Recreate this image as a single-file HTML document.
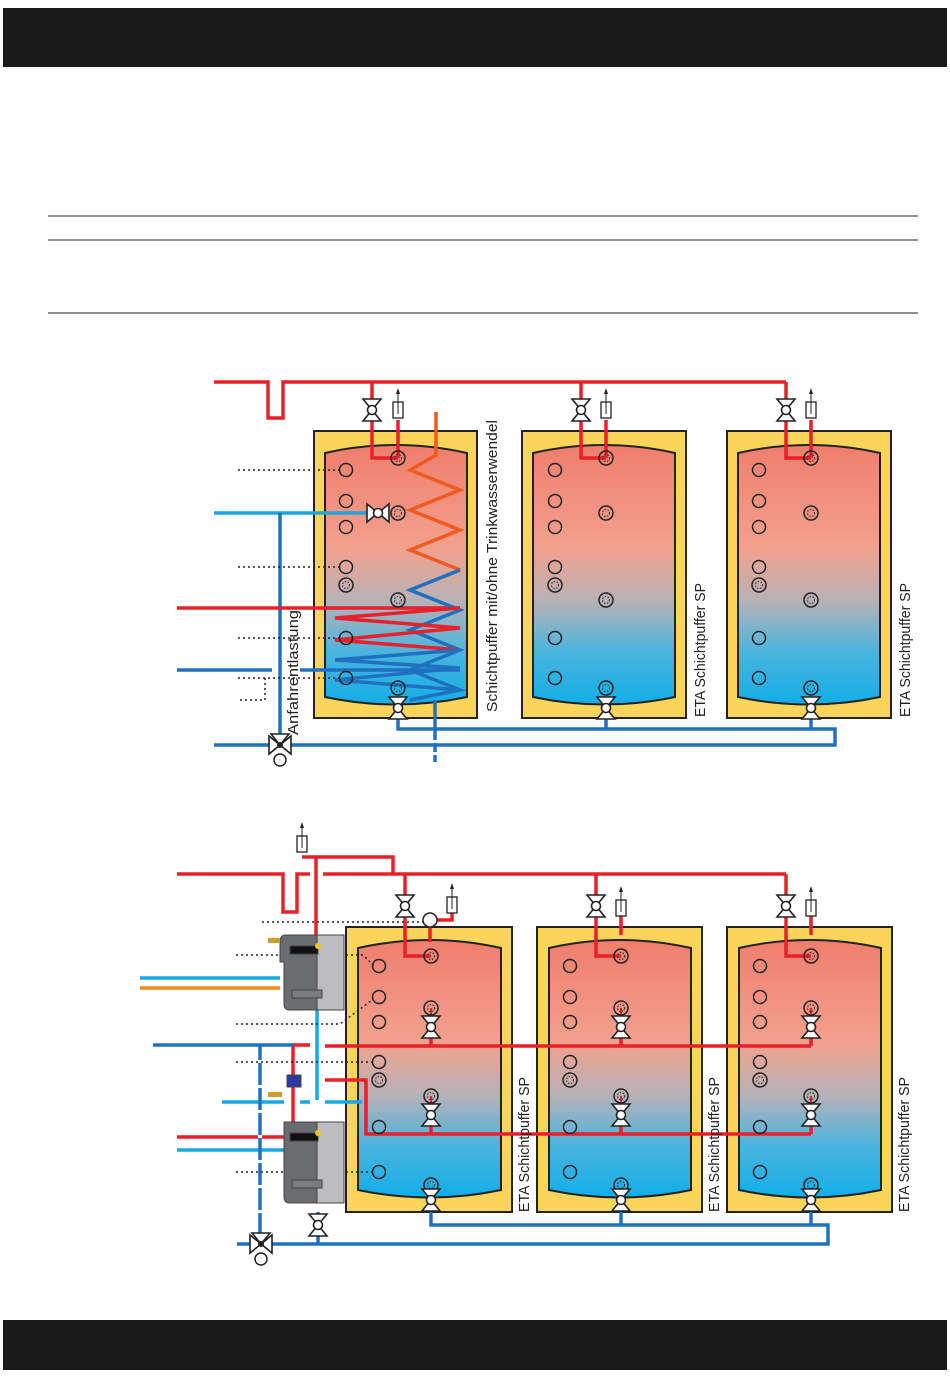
<!DOCTYPE html>
<html><head><meta charset="utf-8"><style>
html,body{margin:0;padding:0;background:#fff;width:950px;height:1378px;overflow:hidden}
svg{display:block}
text{font-family:"Liberation Sans",sans-serif;font-size:15px;fill:#222}
</style></head><body>
<svg width="950" height="1378" viewBox="0 0 950 1378" xmlns="http://www.w3.org/2000/svg">
<defs>
<linearGradient id="g" x1="0" y1="0" x2="0" y2="1">
<stop offset="0" stop-color="#f07e6c"/><stop offset="0.4" stop-color="#f2a18e"/>
<stop offset="0.6" stop-color="#b7b2b6"/><stop offset="0.8" stop-color="#4ab4de"/><stop offset="1" stop-color="#12aee8"/></linearGradient>
<g id="v"><path d="M-9,-11 L9,-11 L0,0 Z M-9,11 L9,11 L0,0Z" fill="#fff" stroke="#222" stroke-width="1.6"/><circle r="4.5" fill="#fff" stroke="#222" stroke-width="1.6"/></g>
<g id="vh"><path d="M-11,-9 L-11,9 L0,0 Z M11,-9 L11,9 L0,0Z" fill="#fff" stroke="#222" stroke-width="1.6"/><circle r="4.5" fill="#fff" stroke="#222" stroke-width="1.6"/></g>
<g id="vent"><rect x="-5" y="-8" width="10" height="16" fill="#fff" stroke="#222" stroke-width="1.3"/><line x1="0" y1="4" x2="0" y2="-20" stroke="#222"/><path d="M-2,-16 L0,-22 L2,-16Z" fill="#222"/></g>
<g id="p"><circle r="6.5" fill="none" stroke="#222" stroke-width="1.5"/></g>
<g id="pd"><circle r="7" fill="none" stroke="#222" stroke-width="1.5"/><circle r="3.5" fill="none" stroke="#222" stroke-dasharray="1.5 1.5"/></g>
<g id="mix"><path d="M-11,-9 L-11,9 L0,0 Z M11,-9 L11,9 L0,0Z M-9,-11 L9,-11 L0,0Z" fill="#fff" stroke="#222" stroke-width="1.6"/><circle cy="15" r="6" fill="#fff" stroke="#222" stroke-width="1.5"/><circle r="3" fill="#222"/></g>
</defs>
<rect x="3" y="8" width="944" height="59" fill="#1a1a1a"/>
<rect x="3" y="1320" width="944" height="50" fill="#1a1a1a"/>
<g stroke="#222" stroke-width="1"><line x1="48" y1="216" x2="918" y2="216"/><line x1="48" y1="240" x2="918" y2="240"/><line x1="48" y1="313" x2="918" y2="313"/></g>

<!-- TOP DIAGRAM tanks -->
<g stroke="#222" stroke-width="2">
<rect x="314" y="431" width="163" height="287" fill="#fbd55a"/>
<rect x="522" y="431" width="164" height="287" fill="#fbd55a"/>
<rect x="727" y="431" width="164" height="287" fill="#fbd55a"/>
<path d="M325,453 Q396,437 467,453 L467,697 Q396,712 325,697Z" fill="url(#g)"/>
<path d="M533,453 Q604,437 675,453 L675,697 Q604,712 533,697Z" fill="url(#g)"/>
<path d="M738,453 Q809,437 880,453 L880,697 Q809,712 738,697Z" fill="url(#g)"/>
</g>
<g fill="none" stroke-width="3.5">
<path d="M214,382 H268 V418 H283 V382 H786" stroke="#e8202a"/>
<path d="M372,382 V458 H398 M398,458 V420 M581,382 V458 H606 M606,458 V420 M786,382 V458 H811 M811,458 V420" stroke="#e8202a"/>
<path d="M214,513 H372" stroke="#1ca6e0"/>
<path d="M280,513 V745 M214,745 H835 V729 H398 V705 M606,729 V705 M811,729 V705" stroke="#2070c0"/>
<path d="M177,608 H460" stroke="#e8202a"/>
<path d="M177,670 H272 M300,670 H460" stroke="#2070c0"/>
<path d="M436,412 V455 L410,470 L460,490 L410,510 L460,530 L410,550 L460,570" stroke="#f05a1e"/>
<path d="M460,570 L410,590 L460,610 L410,630 L460,650 L410,670 L460,690 L410,700 M435,700 V762" stroke="#2070c0"/>
<path d="M460,608 L335,618 L460,628 L335,640 L460,650" stroke="#e8202a"/>
<path d="M460,650 L335,660 L460,668 L335,680 L460,690" stroke="#2070c0"/>
</g>
<line x1="435" y1="740" x2="435" y2="762" stroke="#fff" stroke-width="4" stroke-dasharray="3 9"/>
<g stroke="#222" stroke-width="1.5" stroke-dasharray="2 3" fill="none">
<path d="M238,470 H340 M238,567 H340 M238,638 H340 M238,678 H340 M265,678 V700 H238"/>
</g>
<g>
<use href="#p" x="346" y="470"/><use href="#p" x="346" y="501"/><use href="#p" x="346" y="527"/><use href="#p" x="346" y="567"/><use href="#pd" x="346" y="585"/><use href="#p" x="346" y="638"/><use href="#p" x="346" y="678"/>
<use href="#pd" x="398" y="458"/><use href="#pd" x="398" y="513"/><use href="#pd" x="398" y="600"/><use href="#pd" x="398" y="688"/>
<use href="#p" x="555" y="470"/><use href="#p" x="555" y="501"/><use href="#p" x="555" y="527"/><use href="#p" x="555" y="567"/><use href="#pd" x="555" y="585"/><use href="#p" x="555" y="638"/><use href="#p" x="555" y="678"/>
<use href="#pd" x="606" y="458"/><use href="#pd" x="606" y="513"/><use href="#pd" x="606" y="600"/><use href="#pd" x="606" y="688"/>
<use href="#p" x="759" y="470"/><use href="#p" x="759" y="501"/><use href="#p" x="759" y="527"/><use href="#p" x="759" y="567"/><use href="#pd" x="759" y="585"/><use href="#p" x="759" y="638"/><use href="#p" x="759" y="678"/>
<use href="#pd" x="811" y="458"/><use href="#pd" x="811" y="513"/><use href="#pd" x="811" y="600"/><use href="#pd" x="811" y="688"/>
<use href="#v" x="372" y="410"/><use href="#vent" x="398" y="410"/>
<use href="#v" x="581" y="410"/><use href="#vent" x="606" y="410"/>
<use href="#v" x="786" y="410"/><use href="#vent" x="811" y="410"/>
<use href="#vh" x="378" y="513"/>
<use href="#v" x="398" y="708"/><use href="#v" x="606" y="708"/><use href="#v" x="811" y="708"/>
<use href="#mix" x="280" y="745"/>
</g>
<text transform="translate(497,712) rotate(-90)" textLength="292" lengthAdjust="spacingAndGlyphs" font-size="16">Schichtpuffer mit/ohne Trinkwasserwendel</text>
<text transform="translate(705,717) rotate(-90)" textLength="134" lengthAdjust="spacingAndGlyphs" font-size="16">ETA Schichtpuffer SP</text>
<text transform="translate(910,717) rotate(-90)" textLength="134" lengthAdjust="spacingAndGlyphs" font-size="16">ETA Schichtpuffer SP</text>
<text transform="translate(298,735) rotate(-90)" textLength="125" lengthAdjust="spacingAndGlyphs" font-size="16">Anfahrentlastung</text>

<!-- BOTTOM DIAGRAM -->
<g stroke="#222" stroke-width="2">
<rect x="346" y="927" width="166" height="285" fill="#fbd55a"/>
<rect x="537" y="927" width="165" height="285" fill="#fbd55a"/>
<rect x="727" y="927" width="165" height="285" fill="#fbd55a"/>
<path d="M358,948 Q430,932 501,948 L501,1190 Q430,1205 358,1190Z" fill="url(#g)"/>
<path d="M549,948 Q620,932 691,948 L691,1190 Q620,1205 549,1190Z" fill="url(#g)"/>
<path d="M739,948 Q810,932 881,948 L881,1190 Q810,1205 739,1190Z" fill="url(#g)"/>
</g>
<g fill="none" stroke-width="3.5">
<path d="M177,874 H283 V912 H297 V874 H310 M323,874 H786" stroke="#e8202a"/>
<path d="M302,857 H393 V874 M316,857 V935" stroke="#e8202a"/>
<path d="M405,874 V956 H431 M596,874 V956 H621 M786,874 V956 H811 M430,920 V942 M436,920 H452 V905 M621,910 V935 M811,910 V935" stroke="#e8202a"/>
<path d="M293,1046 V1045 H310 M325,1046 H811 M431,1046 V1035 M621,1046 V1035 M811,1046 V1035 M325,1080 H366 V1134 H811 M431,1134 V1123 M621,1134 V1123 M811,1134 V1123 M293,1046 V1125" stroke="#e8202a"/>
<path d="M431,1020 V1008 M621,1020 V1008 M811,1020 V1008 M431,1108 V1096 M621,1108 V1096 M811,1108 V1096" stroke="#e8202a" stroke-width="2"/>
<path d="M177,1137 H285" stroke="#e8202a"/>
<path d="M140,978 H280" stroke="#1ca6e0"/>
<path d="M140,988 H280" stroke="#f08a1e"/>
<path d="M177,1150 H285 M222,1102 H284 M300,1102 H310 M325,1102 H362 M317,1010 V1100" stroke="#1ca6e0"/>
<path d="M153,1045 H293 M260,1045 V1244 M237,1244 H828 V1225 H431 V1212 M621,1225 V1212 M811,1225 V1212 M318,1212 V1244" stroke="#2070c0"/>
</g>
<line x1="260" y1="1060" x2="260" y2="1230" stroke="#fff" stroke-width="4" stroke-dasharray="3 22"/>
<g stroke="#222" stroke-width="1.5" stroke-dasharray="2 3" fill="none">
<path d="M262,922 H424 M236,955 H363 L374,966 M236,1024 H340 L372,1000 M236,1062 H372 M236,1172 H372"/>
</g>
<!-- modules -->
<g stroke="#444" stroke-width="1">
<path d="M286,935 H338 Q344,935 344,941 V1004 Q344,1010 338,1010 H290 Q284,1010 284,1004 V962 H280 V942 Q280,935 286,935Z" fill="#6a6c70"/>
<rect x="317" y="935" width="27" height="75" fill="#bdbdbf"/>
<rect x="290" y="946" width="28" height="8" fill="#111"/>
<rect x="292" y="990" width="30" height="8" fill="#7a7c80"/>
<path d="M290,1122 H338 Q344,1122 344,1128 V1197 Q344,1203 338,1203 H290 Q284,1203 284,1197 V1122Z" fill="#6a6c70"/>
<rect x="317" y="1122" width="27" height="81" fill="#bdbdbf"/>
<rect x="290" y="1133" width="28" height="8" fill="#111"/>
<rect x="292" y="1180" width="30" height="8" fill="#7a7c80"/>
<rect x="287" y="1075" width="14" height="12" fill="#2a3aa0"/>
</g>
<circle cx="318" cy="946" r="3" fill="#f5c21a"/><circle cx="318" cy="1133" r="3" fill="#f5c21a"/>
<rect x="268" y="938" width="12" height="5" fill="#c9a030"/><rect x="268" y="1092" width="14" height="5" fill="#c9a030"/>
<g>
<use href="#p" x="379" y="966"/><use href="#p" x="379" y="997"/><use href="#p" x="379" y="1022"/><use href="#p" x="379" y="1062"/><use href="#pd" x="379" y="1080"/><use href="#p" x="379" y="1127"/><use href="#p" x="379" y="1172"/>
<use href="#pd" x="431" y="956"/><use href="#pd" x="431" y="1008"/><use href="#pd" x="431" y="1096"/><use href="#pd" x="431" y="1185"/>
<use href="#p" x="570" y="966"/><use href="#p" x="570" y="997"/><use href="#p" x="570" y="1022"/><use href="#p" x="570" y="1062"/><use href="#pd" x="570" y="1080"/><use href="#p" x="570" y="1127"/><use href="#p" x="570" y="1172"/>
<use href="#pd" x="621" y="956"/><use href="#pd" x="621" y="1008"/><use href="#pd" x="621" y="1096"/><use href="#pd" x="621" y="1185"/>
<use href="#p" x="760" y="966"/><use href="#p" x="760" y="997"/><use href="#p" x="760" y="1022"/><use href="#p" x="760" y="1062"/><use href="#pd" x="760" y="1080"/><use href="#p" x="760" y="1127"/><use href="#p" x="760" y="1172"/>
<use href="#pd" x="811" y="956"/><use href="#pd" x="811" y="1008"/><use href="#pd" x="811" y="1096"/><use href="#pd" x="811" y="1185"/>
<use href="#v" x="405" y="906"/><use href="#vent" x="452" y="905"/><circle cx="430" cy="920" r="7" fill="#fff" stroke="#222" stroke-width="1.5"/>
<use href="#v" x="596" y="906"/><use href="#vent" x="621" y="908"/>
<use href="#v" x="786" y="906"/><use href="#vent" x="811" y="908"/>
<use href="#vent" x="302" y="844"/>
<use href="#v" x="431" y="1027"/><use href="#v" x="621" y="1027"/><use href="#v" x="811" y="1027"/>
<use href="#v" x="431" y="1115"/><use href="#v" x="621" y="1115"/><use href="#v" x="811" y="1115"/>
<use href="#v" x="431" y="1200"/><use href="#v" x="621" y="1200"/><use href="#v" x="811" y="1200"/>
<use href="#v" x="318" y="1225"/>
<use href="#mix" x="261" y="1244"/>
</g>
<text transform="translate(529,1212) rotate(-90)" textLength="135" lengthAdjust="spacingAndGlyphs" font-size="16">ETA Schichtpuffer SP</text>
<text transform="translate(719,1212) rotate(-90)" textLength="135" lengthAdjust="spacingAndGlyphs" font-size="16">ETA Schichtpuffer SP</text>
<text transform="translate(909,1212) rotate(-90)" textLength="135" lengthAdjust="spacingAndGlyphs" font-size="16">ETA Schichtpuffer SP</text>
</svg>
</body></html>
